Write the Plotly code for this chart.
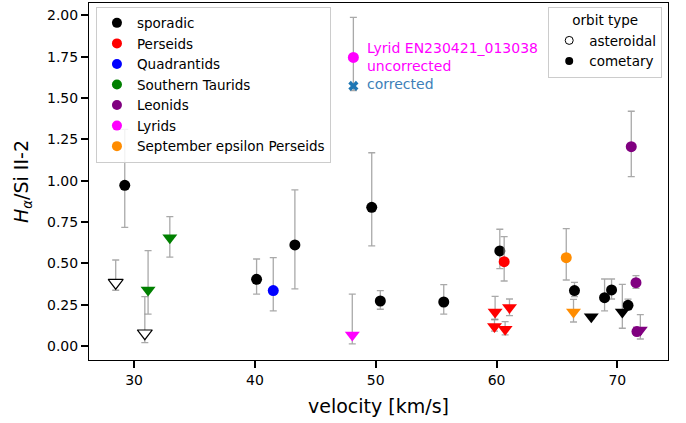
import plotly.graph_objects as go

# ---- data: (velocity, ratio, upper, lower) ----
sporadic_circ_v = [29.23, 40.14, 43.31, 49.67, 50.38, 55.63, 60.27, 66.45, 68.94, 69.52, 70.88]
sporadic_circ_y = [0.972, 0.403, 0.611, 0.839, 0.272, 0.266, 0.575, 0.335, 0.292, 0.339, 0.246]
sporadic_circ_hi = [1.31, 0.526, 0.944, 1.169, 0.335, 0.371, 0.706, 0.385, 0.405, 0.405, 0.283]
sporadic_circ_lo = [0.718, 0.313, 0.345, 0.605, 0.222, 0.192, 0.468, 0.298, 0.212, 0.284, 0.22]

sporadic_tri_v = [67.84, 70.41]
sporadic_tri_y = [0.177, 0.206]
sporadic_tri_hi = [0.19, 0.373]
sporadic_tri_lo = [0.165, 0.107]

asteroidal_tri_v = [28.48, 30.89]
asteroidal_tri_y = [0.383, 0.077]
asteroidal_tri_hi = [0.52, 0.298]
asteroidal_tri_lo = [0.337, 0.02]

perseids_circ_v = [60.63]
perseids_circ_y = [0.51]
perseids_circ_hi = [0.661]
perseids_circ_lo = [0.393]
perseids_tri_v = [59.88, 59.83, 61.07, 60.71]
perseids_tri_y = [0.206, 0.117, 0.232, 0.101]
perseids_tri_hi = [0.30, 0.16, 0.284, 0.147]
perseids_tri_lo = [0.16, 0.09, 0.183, 0.067]

quadrantids_v = [41.52]
quadrantids_y = [0.335]
quadrantids_hi = [0.534]
quadrantids_lo = [0.212]

taurids_tri_v = [31.16, 32.96]
taurids_tri_y = [0.339, 0.655]
taurids_tri_hi = [0.577, 0.782]
taurids_tri_lo = [0.192, 0.538]

leonids_circ_v = [71.15, 71.54, 71.62]
leonids_circ_y = [1.206, 0.383, 0.087]
leonids_circ_hi = [1.42, 0.425, 0.1]
leonids_circ_lo = [1.024, 0.349, 0.08]
leonids_tri_v = [71.9]
leonids_tri_y = [0.097]
leonids_tri_hi = [0.19]
leonids_tri_lo = [0.042]

lyrids_tri_v = [48.06]
lyrids_tri_y = [0.067]
lyrids_tri_hi = [0.313]
lyrids_tri_lo = [0.012]
lyrid_unc_v = [48.15]
lyrid_unc_y = [1.746]
lyrid_unc_hi = [1.988]
lyrid_unc_lo = [1.545]
lyrid_cor_v = [48.15]
lyrid_cor_y = [1.573]

sep_circ_v = [65.77]
sep_circ_y = [0.534]
sep_circ_hi = [0.71]
sep_circ_lo = [0.399]
sep_tri_v = [66.37]
sep_tri_y = [0.206]
sep_tri_hi = [0.282]
sep_tri_lo = [0.145]

showers = ["sporadic", "Perseids", "Quadrantids", "Southern Taurids", "Leonids", "Lyrids",
           "September epsilon Perseids"]
shower_colors = ["black", "red", "blue", "green", "purple", "magenta", "darkorange"]
orbit_types = ["asteroidal", "cometary"]
annot_lines = ["Lyrid EN230421_013038", "uncorrected", "corrected"]

ERR_COLOR = "rgba(140,140,140,0.75)"
MS = 11
TS = 13

fig = go.Figure()


def add(v, y, hi, lo, color, symbol, line_color=None):
    size = TS if symbol.startswith("triangle") else MS
    fig.add_trace(go.Scatter(
        x=v, y=y, mode="markers", showlegend=False,
        marker=dict(symbol=symbol, size=size, color=color,
                    line=dict(width=1.2 if line_color else 0, color=line_color or color)),
        error_y=dict(type="data", symmetric=False,
                     array=[h - a for h, a in zip(hi, y)],
                     arrayminus=[a - l for a, l in zip(y, lo)],
                     color=ERR_COLOR, thickness=1.3, width=3.5),
    ))


add(sporadic_circ_v, sporadic_circ_y, sporadic_circ_hi, sporadic_circ_lo, "black", "circle")
add(sporadic_tri_v, sporadic_tri_y, sporadic_tri_hi, sporadic_tri_lo, "black", "triangle-down")
add(asteroidal_tri_v, asteroidal_tri_y, asteroidal_tri_hi, asteroidal_tri_lo, "white", "triangle-down", "black")
add(perseids_circ_v, perseids_circ_y, perseids_circ_hi, perseids_circ_lo, "red", "circle")
add(perseids_tri_v, perseids_tri_y, perseids_tri_hi, perseids_tri_lo, "red", "triangle-down")
add(quadrantids_v, quadrantids_y, quadrantids_hi, quadrantids_lo, "blue", "circle")
add(taurids_tri_v, taurids_tri_y, taurids_tri_hi, taurids_tri_lo, "green", "triangle-down")
add(leonids_circ_v, leonids_circ_y, leonids_circ_hi, leonids_circ_lo, "purple", "circle")
add(leonids_tri_v, leonids_tri_y, leonids_tri_hi, leonids_tri_lo, "purple", "triangle-down")
add(lyrids_tri_v, lyrids_tri_y, lyrids_tri_hi, lyrids_tri_lo, "magenta", "triangle-down")
add(lyrid_unc_v, lyrid_unc_y, lyrid_unc_hi, lyrid_unc_lo, "magenta", "circle")
add(sep_circ_v, sep_circ_y, sep_circ_hi, sep_circ_lo, "darkorange", "circle")
add(sep_tri_v, sep_tri_y, sep_tri_hi, sep_tri_lo, "darkorange", "triangle-down")

fig.add_trace(go.Scatter(x=lyrid_cor_v, y=lyrid_cor_y, mode="markers", showlegend=False,
                         marker=dict(symbol="x", size=9, color="#1f77b4", line=dict(width=0))))

# legend entries
for name, col in zip(showers, shower_colors):
    fig.add_trace(go.Scatter(x=[None], y=[None], mode="markers", name=name, legend="legend",
                             marker=dict(symbol="circle", size=10, color=col)))
fig.add_trace(go.Scatter(x=[None], y=[None], mode="markers", name=orbit_types[0], legend="legend2",
                         marker=dict(symbol="circle-open", size=8, color="black", line=dict(width=1))))
fig.add_trace(go.Scatter(x=[None], y=[None], mode="markers", name=orbit_types[1], legend="legend2",
                         marker=dict(symbol="circle", size=8, color="black")))

for txt, yy, col in [(annot_lines[0], 1.80, "magenta"), (annot_lines[1], 1.695, "magenta"),
                     (annot_lines[2], 1.586, "#3d7fb8")]:
    fig.add_annotation(x=49.1, y=yy, xref="x", yref="y", text=txt,
                       showarrow=False, xanchor="left", yanchor="middle", align="left",
                       font=dict(size=14, color=col))

FONT = "DejaVu Sans"
fig.update_layout(
    width=686, height=423,
    margin=dict(l=89, r=18, t=3, b=63),
    paper_bgcolor="white", plot_bgcolor="white",
    font=dict(family=FONT, color="black", size=13),
    legend=dict(x=0.012, y=0.99, xanchor="left", yanchor="top",
                bgcolor="rgba(255,255,255,0.85)", bordercolor="#cccccc", borderwidth=1,
                font=dict(size=13.5), tracegroupgap=0, itemwidth=30),
    legend2=dict(x=0.99, y=0.99, xanchor="right", yanchor="top",
                 bgcolor="rgba(255,255,255,0.85)", bordercolor="#cccccc", borderwidth=1,
                 font=dict(size=13.5), title=dict(text="orbit type", side="top center", font=dict(size=13.5)),
                 itemwidth=30),
    xaxis=dict(range=[26.27, 74.19], showgrid=False, zeroline=False,
               showline=True, linecolor="black", linewidth=1, mirror=True,
               ticks="outside", ticklen=7, tickwidth=1.5, tickcolor="black",
               tickvals=[30, 40, 50, 60, 70], tickfont=dict(size=14),
               title=dict(text="velocity [km/s]", font=dict(size=19), standoff=12)),
    yaxis=dict(range=[-0.085, 2.075], showgrid=False, zeroline=False,
               showline=True, linecolor="black", linewidth=1, mirror=True,
               ticks="outside", ticklen=7, tickwidth=1.5, tickcolor="black",
               tickvals=[0, 0.25, 0.5, 0.75, 1.0, 1.25, 1.5, 1.75, 2.0], tickformat=".2f",
               tickfont=dict(size=14),
               title=dict(text="<i>H</i><sub><i>α</i></sub>/Si II-2", font=dict(size=19), standoff=13)),
)

fig.write_html("out.html")
